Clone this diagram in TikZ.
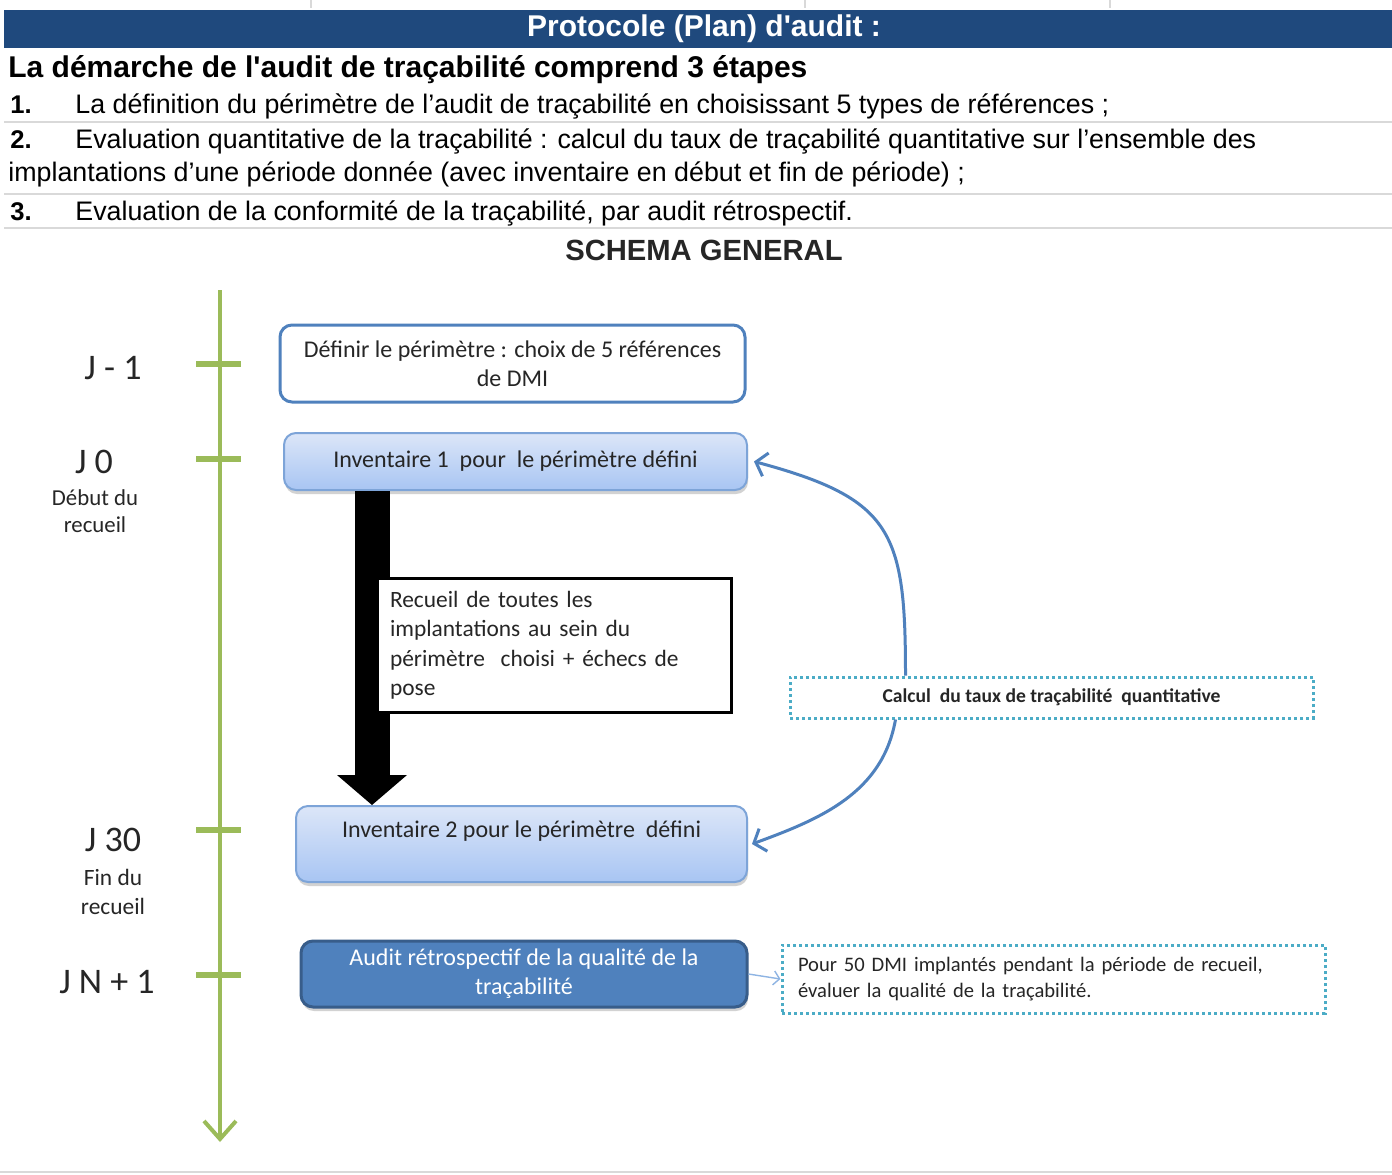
\documentclass[tikz,border=0pt]{standalone}
\usepackage{fontspec}
\setmainfont{Liberation Sans}
\newfontfamily\calibri{Carlito}
\usetikzlibrary{positioning,arrows.meta,shadows}
\definecolor{hdblue}{HTML}{1F497D}
\definecolor{stepblue}{HTML}{4F81BD}
\definecolor{darkstep}{HTML}{385D8A}
\definecolor{timegreen}{HTML}{9BBB59}
\definecolor{dotcyan}{HTML}{4BACC6}
\definecolor{paleblue}{HTML}{DCE6F8}
\definecolor{midblue}{HTML}{A8C5F3}
\definecolor{edgeblue}{HTML}{7DA4D8}
\definecolor{linkblue}{HTML}{8EB4E3}
\definecolor{rulegray}{HTML}{D9D9D9}

\begin{document}
\begin{tikzpicture}[x=0.5pt,y=-0.5pt,
		rowtext/.style={anchor=base west, inner sep=0pt, font=\fontsize{13.4}{15}\selectfont},
		rownum/.style={anchor=base west, inner sep=0pt, font=\bfseries\fontsize{12.8}{15}\selectfont},
		daylabel/.style={font=\calibri\fontsize{18}{20}\selectfont, text=black!85},
		daynote/.style={font=\calibri\fontsize{11.4}{13.5}\selectfont, align=center, text=black!85},
		boxfont/.style={font=\calibri\fontsize{12}{14.5}\selectfont},
		perimbox/.style={boxfont, draw=stepblue, line width=1.5pt, fill=white, rounded corners=6pt, align=center, text=black!85},
		invbox/.style={boxfont, draw=edgeblue, line width=1pt, top color=paleblue, bottom color=midblue, rounded corners=6pt, align=center, text=black!85, drop shadow={opacity=0.35, shadow xshift=0.5pt, shadow yshift=-2pt}},
		auditbox/.style={boxfont, draw=darkstep, line width=1.5pt, fill=stepblue, rounded corners=6pt, align=center, text=white, drop shadow={opacity=0.35, shadow xshift=0.5pt, shadow yshift=-2pt}},
		notebox/.style={font=\calibri\fontsize{11.7}{14.75}\selectfont, draw=black, line width=1.5pt, fill=white, align=left, text=black!85},
		dotbox/.style={draw=dotcyan, line width=1.5pt, dash pattern=on 1.5pt off 1.5pt, text=black!85},
		loop arrow/.style={stepblue, line width=1.5pt, -{Straight Barb[length=5pt,width=12pt]}}]
	\useasboundingbox (0,0) rectangle (1392,1174);
	\fill[white] (0,0) rectangle (1392,1174);
	\foreach \x in {311,805,1110} \draw[rulegray, line width=0.7pt] (\x,0) -- (\x,8);
	\fill[hdblue] (4,10) rectangle (1392,48);
	\node[font=\bfseries\fontsize{15}{16}\selectfont, text=white] (title) at (704,29) {Protocole (Plan) d\textquotesingle audit :};
	\node[rowtext, font=\bfseries\fontsize{15}{17}\selectfont] (steps) at (8,77) {La démarche de l\textquotesingle audit de traçabilité comprend 3 étapes};
	\node[rownum] (num1) at (10,113) {1.};
	\node[rowtext] (step1) at (75,113) {La définition du périmètre de l’audit de traçabilité en choisissant 5 types de références ;};
	\node[rownum] (num2) at (10,148) {2.};
	\node[rowtext] (step2) at (75,148) {Evaluation quantitative de la traçabilité : calcul du taux de traçabilité quantitative sur l’ensemble des};
	\node[rowtext] (step2b) at (8,181) {implantations d’une période donnée (avec inventaire en début et fin de période) ;};
	\node[rownum] (num3) at (10,220) {3.};
	\node[rowtext] (step3) at (75,220) {Evaluation de la conformité de la traçabilité, par audit rétrospectif.};
	\foreach \y in {122,194,228} \draw[rulegray, line width=1pt] (4,\y) -- (1392,\y);
	\draw[rulegray, line width=1pt] (0,1172) -- (1392,1172);
	\node[anchor=base, inner sep=0pt, font=\bfseries\fontsize{14.6}{16}\selectfont, text=black!85] (schema) at (704,260) {SCHEMA GENERAL};

	\draw[timegreen, line width=2pt, -{Straight Barb[length=9pt,width=16pt]}] (220,290) -- (220,1142);
	\foreach \y/\name in {364/tm1, 459/t0, 830/t30, 975/tn1}
		\draw[timegreen, line width=3pt] (196,\y) -- (241,\y) coordinate (\name);
	\node[daylabel] (jm1) at (113,368) {J - 1};
	\node[daylabel] (j0) at (94,462) {J 0};
	\node[daynote] (start) at (95,511) {Début du\\recueil};
	\node[daylabel] (j30) at (113,840) {J 30};
	\node[daynote, font=\calibri\fontsize{11.7}{14.5}\selectfont] (end) at (113,892) {Fin du\\recueil};
	\node[daylabel] (jn1) at (107,982) {J N + 1};

	\node[perimbox, minimum width=232.5pt, minimum height=38.5pt] (perim) at (512.5,363.5) {Définir le périmètre : choix de 5 références\\de DMI};
	\node[invbox, minimum width=231.5pt, minimum height=28.5pt] (inv1) at (515.5,461.5) {Inventaire 1\ \ pour\ \ le périmètre\ défini};
	\node[invbox, minimum width=225.5pt, minimum height=38pt] (inv2) at (521.5,844) {Inventaire 2 pour le périmètre\ \ défini\\\mbox{}};
	\draw[black, line width=17.5pt, -{Triangle[length=15pt,width=35pt,line width=0pt]}] ([xshift=44.5pt]inv1.south west) -- ([xshift=44.5pt]inv1.south west |- inv2.north);
	\node[notebox, inner xsep=6.5pt, text width=164pt, minimum height=67pt] (recueil) at (554,645) {Recueil de toutes les\\implantations au sein du\\périmètre\ \ choisi + échecs de\\pose};
	\node[auditbox, minimum width=223pt, minimum height=33pt] (audit) at (524,974) {Audit rétrospectif de la qualité de la\\traçabilité};

	\node[dotbox, font=\calibri\bfseries\fontsize{9.8}{12}\selectfont, minimum width=261.5pt, minimum height=20.5pt] (calc) at (1051.5,697.5) {Calcul\ \ du taux de traçabilité\ \ quantitative};
	\node[dotbox, font=\calibri\fontsize{10.3}{13}\selectfont, align=left, inner xsep=8pt, text width=255.5pt, minimum height=34pt] (pour) at (1053.5,979) {Pour 50 DMI implantés pendant la période de recueil,\\évaluer la qualité de la traçabilité.};

	\draw[loop arrow] ([xshift=-73pt]calc.north) to[out=90,in=-15,looseness=1.4] ([xshift=3pt]inv1.east);
	\draw[loop arrow] ([xshift=-78pt]calc.south) to[out=-100,in=20] ([xshift=2pt]inv2.east);
	\draw[linkblue, line width=0.7pt, -{Straight Barb[length=3pt,width=7pt]}] (audit.east) -- (pour.west);
\end{tikzpicture}
\end{document}
